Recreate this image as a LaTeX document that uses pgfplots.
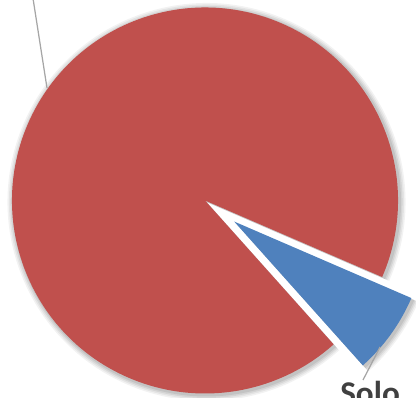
\documentclass[border=0pt]{standalone}
\usepackage{pgfplots}
\pgfplotsset{compat=1.18}
\usepackage{pgfplotstable}
\usepackage{fontspec}
\setmainfont{Carlito}
\definecolor{pieRed}{HTML}{C0504D}
\definecolor{pieBlue}{HTML}{4F81BD}
\definecolor{lblGray}{HTML}{404040}
\definecolor{leadGray}{HTML}{A6A6A6}
\pgfplotstableread{
label value
Other 93.1
Solo 6.9
}\piedata
% #1,#2 centre; #3 start angle; #4 end angle; #5 radius; #6 opacity
\newcommand\shwedge[6]{\fill[black, opacity=#6] (axis cs:#1,#2) -- ++(#3:#5) arc[start angle=#3, end angle=#4, radius=#5] -- cycle;}
\begin{document}
\begin{tikzpicture}
\pgfplotstablegetelem{0}{value}\of\piedata \let\vOther\pgfplotsretval
\pgfplotstablegetelem{1}{value}\of\piedata \let\vSolo\pgfplotsretval
\pgfmathsetmacro\aStart{-48.2}
\pgfmathsetmacro\aMid{\aStart+3.6*\vSolo}
\pgfmathsetmacro\aEnd{\aMid+3.6*\vOther}
\pgfmathsetmacro\aBlueMid{(\aStart+\aMid)/2}
\pgfmathsetmacro\bx{205+36*cos(\aBlueMid)}
\pgfmathsetmacro\by{196.5+36*sin(\aBlueMid)}
\pgfmathsetmacro\rsx{205+1.5}
\pgfmathsetmacro\rsy{196.5-1.5}
\pgfmathsetmacro\bsx{\bx+1.5}
\pgfmathsetmacro\bsy{\by-1.5}
\begin{axis}[name=ax, at={(0,0)}, anchor=south west,
  width=4.16in, height=3.97in, scale only axis,
  xmin=0, xmax=416, ymin=0, ymax=397,
  axis lines=none, clip=true]
% soft shadows
\shwedge{\rsx}{\rsy}{\aMid}{\aEnd}{1.99in}{0.05}
\shwedge{\rsx}{\rsy}{\aMid}{\aEnd}{1.975in}{0.06}
\shwedge{\rsx}{\rsy}{\aMid}{\aEnd}{1.96in}{0.07}
\shwedge{\rsx}{\rsy}{\aMid}{\aEnd}{1.945in}{0.08}
\fill[pieRed] (axis cs:205,196.5) -- ++(\aMid:1.93in) arc[start angle=\aMid, end angle=\aEnd, radius=1.93in] -- cycle;
\shwedge{\bsx}{\bsy}{\aStart}{\aMid}{1.99in}{0.05}
\shwedge{\bsx}{\bsy}{\aStart}{\aMid}{1.975in}{0.06}
\shwedge{\bsx}{\bsy}{\aStart}{\aMid}{1.96in}{0.07}
\shwedge{\bsx}{\bsy}{\aStart}{\aMid}{1.945in}{0.08}
\fill[pieBlue] (axis cs:\bx,\by) -- ++(\aStart:1.93in) arc[start angle=\aStart, end angle=\aMid, radius=1.93in] -- cycle;
% leader lines
\draw[leadGray, line width=0.9pt] (axis cs:32,405) -- (axis cs:47,309);
\draw[leadGray, line width=0.9pt] (axis cs:380,50) -- (axis cs:363,17);
\node[anchor=base west, inner sep=0pt, text=lblGray, font=\fontsize{24}{28}\selectfont\bfseries] at (axis cs:340,-7.5) {Solo};
\end{axis}
\pgfresetboundingbox
\path (ax.south west) rectangle (ax.north east);
\end{tikzpicture}
\end{document}
